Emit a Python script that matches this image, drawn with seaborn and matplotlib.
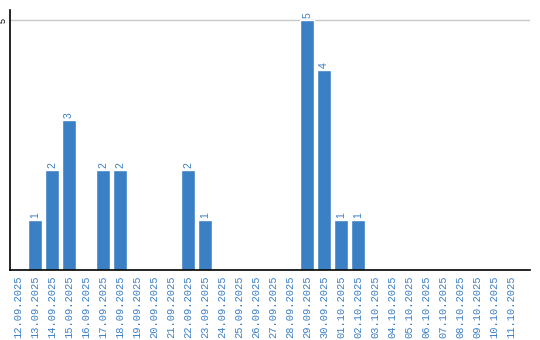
import matplotlib
matplotlib.use("Agg")
import matplotlib.pyplot as plt
import seaborn as sns
import pandas as pd

dates = ["12.09.2025", "13.09.2025", "14.09.2025", "15.09.2025", "16.09.2025",
         "17.09.2025", "18.09.2025", "19.09.2025", "20.09.2025", "21.09.2025",
         "22.09.2025", "23.09.2025", "24.09.2025", "25.09.2025", "26.09.2025",
         "27.09.2025", "28.09.2025", "29.09.2025", "30.09.2025", "01.10.2025",
         "02.10.2025", "03.10.2025", "04.10.2025", "05.10.2025", "06.10.2025",
         "07.10.2025", "08.10.2025", "09.10.2025", "10.10.2025", "11.10.2025"]
counts = [0, 1, 2, 3, 0, 2, 2, 0, 0, 0, 2, 1, 0, 0, 0, 0, 0, 5, 4, 1, 1,
          0, 0, 0, 0, 0, 0, 0, 0, 0]

df = pd.DataFrame({"date": dates, "count": counts})

sns.set_style("white")
plt.rcParams['font.family'] = ['Liberation Mono', 'DejaVu Sans']

fig = plt.figure(figsize=(5.4, 3.4), dpi=100)
ax = fig.add_axes([10/540, 70/340, 520/540, 260/340])

bar_color = "#3b7fc4"
sns.barplot(data=df, x="date", y="count", color=bar_color, width=14/17,
            saturation=1, ax=ax, order=dates)

ax.set_xlim(-0.47, 30.1)
ax.set_ylim(0, 5.2)
ax.set_yticks([5])
ax.set_yticklabels(["5"], rotation=90, va="center", ha="center", fontsize=6.5,
                   color="#000000", family=["Liberation Sans", "DejaVu Sans"])
ax.yaxis.grid(True, color="#c8c8c8", linewidth=1)
ax.set_axisbelow(True)
ax.tick_params(axis="y", length=0, pad=5)
ax.tick_params(axis="x", length=0, pad=4)
ax.set_xticks(range(len(dates)))
ax.set_xticklabels(dates, rotation=90, fontsize=7.5, color=bar_color)
ax.set_xlabel("")
ax.set_ylabel("")

for s in ["top", "right"]:
    ax.spines[s].set_visible(False)
for s in ["left", "bottom"]:
    ax.spines[s].set_visible(True)
    ax.spines[s].set_color("black")
    ax.spines[s].set_linewidth(1.2)

for i, v in enumerate(counts):
    if v > 0:
        ax.text(i, v + 0.04, str(v), rotation=90, ha="center", va="bottom",
                fontsize=7.5, color=bar_color,
                family=["Liberation Sans", "DejaVu Sans"])

fig.savefig("out.png", dpi=100)
